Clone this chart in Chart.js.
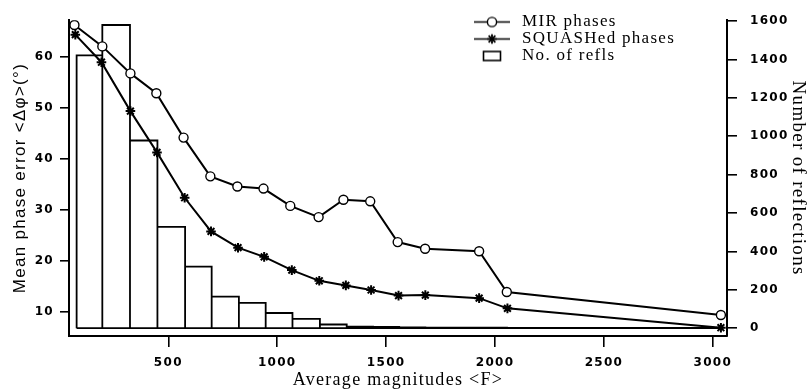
<!DOCTYPE html>
<html>
<head>
<meta charset="utf-8">
<script src="https://cdn.jsdelivr.net/npm/chart.js@4.4.1/dist/chart.umd.min.js"></script>
<style>
  html, body { margin: 0; padding: 0; background: #ffffff; }
  #wrap { width: 809px; height: 391px; }
</style>
</head>
<body>
<div id="wrap"><canvas id="c" width="809" height="391"></canvas></div>
<script>
// ---- data ----
const mirX = [69, 197, 326, 445, 570, 693, 817, 937, 1060, 1190, 1304, 1427, 1553, 1679, 1927, 2054, 3037];
const mirPhaseError = [66.2, 62.0, 56.7, 52.8, 44.1, 36.5, 34.5, 34.1, 30.7, 28.5, 31.9, 31.6, 23.6, 22.3, 21.8, 13.8, 9.3];
const squashX = [73, 193, 326, 448, 575, 696, 820, 940, 1067, 1193, 1315, 1431, 1557, 1680, 1927, 2057, 3037];
const squashPhaseError = [64.3, 58.9, 49.3, 41.2, 32.3, 25.7, 22.5, 20.7, 18.1, 16.0, 15.1, 14.2, 13.1, 13.2, 12.6, 10.6, 6.8];
const binEdges = [79, 197, 324, 450, 577, 699, 824, 947, 1070, 1196, 1319, 1440, 1560, 1680, 1800, 1930, 2055, 3040];
const reflCounts = [1422, 1580, 978, 528, 321, 164, 132, 79, 48, 19, 8, 6, 4, 3, 2, 2, 1];
const xTicks = [500, 1000, 1500, 2000, 2500, 3000];
const leftTicks = [10, 20, 30, 40, 50, 60];
const rightTicks = [0, 200, 400, 600, 800, 1000, 1200, 1400, 1600];
const seriesLabels = ['MIR phases', 'SQUASHed phases', 'No. of refls'];
const xTitle = 'Average magnitudes <F>';
const leftTitle = 'Mean phase error <\u0394\u03C6>(\u00B0)';
const rightTitle = 'Number of reflections';

// histogram outline (each bar's rectangle) built from the bins
const histPts = [];
for (let i = 0; i < reflCounts.length; i++) {
  histPts.push({x: binEdges[i], y: 0}, {x: binEdges[i], y: reflCounts[i]},
               {x: binEdges[i + 1], y: reflCounts[i]}, {x: binEdges[i + 1], y: 0});
}
histPts.push({x: binEdges[0], y: 0});

// legend icons
function icon(kind) {
  const cv = document.createElement('canvas');
  cv.width = kind === 'rect' ? 20 : 36;
  cv.height = 13;
  const g = cv.getContext('2d');
  g.strokeStyle = '#000';
  g.fillStyle = '#fff';
  if (kind === 'rect') {
    g.lineWidth = 1.6;
    g.strokeRect(1.5, 2, 17, 9);
  } else {
    g.lineWidth = 1.6;
    g.beginPath(); g.moveTo(0, 6.5); g.lineTo(36, 6.5); g.stroke();
    if (kind === 'circle') {
      g.beginPath(); g.arc(18, 6.5, 4.6, 0, Math.PI * 2); g.fill(); g.lineWidth = 1.4; g.stroke();
    } else {
      g.lineWidth = 1.8;
      for (let k = 0; k < 4; k++) {
        const a = k * Math.PI / 4 + Math.PI / 2;
        g.beginPath();
        g.moveTo(18 - 4.8 * Math.cos(a), 6.5 - 4.8 * Math.sin(a));
        g.lineTo(18 + 4.8 * Math.cos(a), 6.5 + 4.8 * Math.sin(a));
        g.stroke();
      }
    }
  }
  return cv;
}
const legendIcons = [icon('circle'), icon('star'), icon('rect')];

const spacing = {
  id: 'spacing',
  beforeUpdate(chart) { chart.ctx.letterSpacing = '1.3px'; },
  beforeDraw(chart) { chart.ctx.letterSpacing = '1.3px'; }
};
const legendPos = {
  id: 'legendPos',
  afterLayout(chart) {
    const l = chart.legend;
    if (!l) return;
    l.left = 470.5; l.top = 13.5; l.right = 800; l.bottom = 140;
  }
};

const tickFont = {family: 'DejaVu Sans', size: 12, weight: 'bold'};
const plain = v => String(v);
const fixTicks = arr => (s => { s.ticks = arr.map(v => ({value: v})); });

new Chart(document.getElementById('c'), {
  type: 'line',
  data: {
    datasets: [
      {
        label: seriesLabels[0],
        data: mirX.map((x, i) => ({x: x, y: mirPhaseError[i]})),
        yAxisID: 'y', borderColor: '#000', borderWidth: 2, tension: 0,
        pointStyle: 'circle', pointRadius: 4.5, pointBackgroundColor: '#fff',
        pointBorderColor: '#000', pointBorderWidth: 1.4, order: 1
      },
      {
        label: seriesLabels[1],
        data: squashX.map((x, i) => ({x: x, y: squashPhaseError[i]})),
        yAxisID: 'y', borderColor: '#000', borderWidth: 2, tension: 0,
        pointStyle: 'star', pointRadius: 4.8, pointBackgroundColor: '#000',
        pointBorderColor: '#000', pointBorderWidth: 2, order: 2
      },
      {
        label: seriesLabels[2],
        data: histPts,
        yAxisID: 'y1', borderColor: '#000', borderWidth: 1.8, tension: 0,
        pointRadius: 0, fill: false, order: 3
      }
    ]
  },
  options: {
    responsive: false, animation: false, devicePixelRatio: 1,
    layout: {padding: {left: 0, right: 0, top: 15, bottom: 0}},
    plugins: {
      tooltip: {enabled: false},
      legend: {
        position: 'chartArea', align: 'start',
        labels: {
          usePointStyle: true, pointStyleWidth: 43, padding: 0, color: '#000',
          font: {family: 'Liberation Serif', size: 17},
          generateLabels: () => seriesLabels.map((t, i) => ({
            text: t, pointStyle: legendIcons[i], fillStyle: '#fff', strokeStyle: '#000',
            lineWidth: 0, hidden: false, datasetIndex: i, fontColor: '#000'
          }))
        }
      }
    },
    scales: {
      x: {
        type: 'linear', position: 'bottom', min: 44, max: 3065,
        afterBuildTicks: fixTicks(xTicks),
        afterFit: s => { s.height = 55; },
        grid: {drawOnChartArea: false, drawTicks: true, tickLength: 11, color: '#000', lineWidth: 1.6},
        border: {display: true, color: '#000', width: 2},
        ticks: {padding: 9, color: '#000', font: tickFont, maxRotation: 0, callback: plain},
        title: {display: true, text: xTitle, color: '#000', padding: {top: 0, bottom: 0},
                font: {family: 'Liberation Serif', size: 18}}
      },
      y: {
        type: 'linear', position: 'left', min: 5.17, max: 67.14,
        afterBuildTicks: fixTicks(leftTicks),
        afterFit: s => { s.width = 69; },
        grid: {drawOnChartArea: false, drawTicks: true, tickLength: 9, color: '#000', lineWidth: 1.6},
        border: {display: true, color: '#000', width: 2},
        ticks: {padding: 6, color: '#000', font: tickFont, callback: plain},
        title: {display: true, text: leftTitle, color: '#000', padding: {top: 10, bottom: 0},
                font: {family: 'Liberation Sans', size: 17}}
      },
      y1: {
        type: 'linear', position: 'right', min: -41, max: 1605,
        afterBuildTicks: fixTicks(rightTicks),
        afterFit: s => { s.width = 82; },
        grid: {drawOnChartArea: false, drawTicks: true, tickLength: 10, color: '#000', lineWidth: 1.6},
        border: {display: true, color: '#000', width: 2},
        ticks: {padding: 13, color: '#000', font: tickFont, callback: plain},
        title: {display: true, text: rightTitle, color: '#000', padding: {top: 0, bottom: 0},
                font: {family: 'Liberation Serif', size: 19}}
      }
    }
  },
  plugins: [spacing, legendPos]
});
</script>
</body>
</html>
